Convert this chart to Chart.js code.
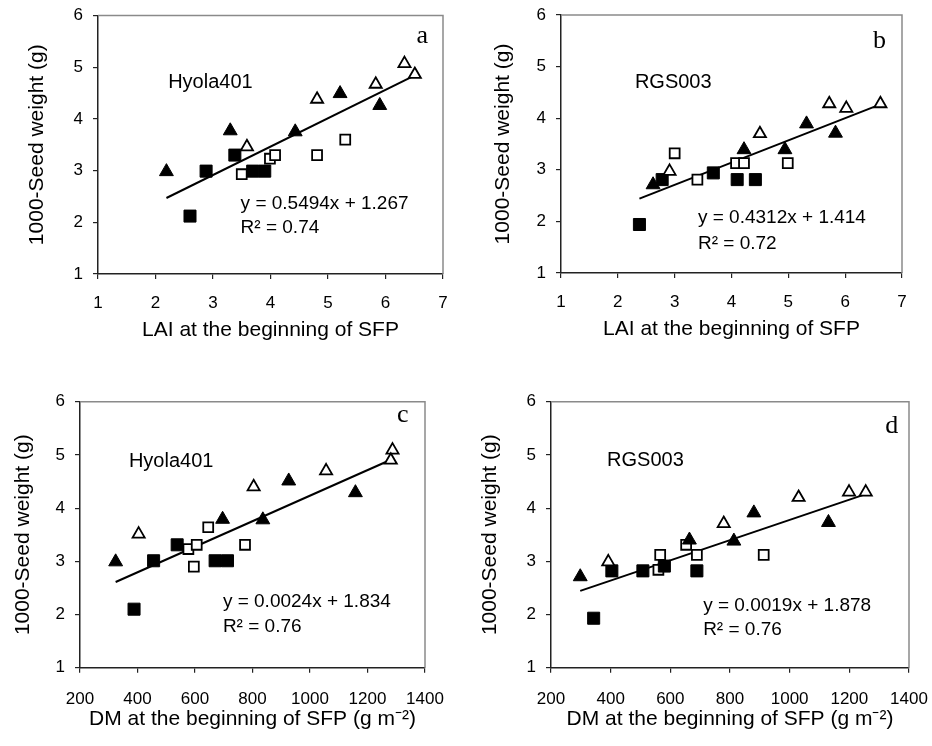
<!DOCTYPE html>
<html>
<head>
<meta charset="utf-8">
<script src="https://cdn.jsdelivr.net/npm/chart.js@4.4.1/dist/chart.umd.min.js"></script>
<style>
  html, body { margin: 0; padding: 0; background: #fff; }
  #wrap { position: relative; width: 932px; height: 746px; }
  .panel { position: absolute; width: 466px; height: 373px; }
  canvas { display: block; }
</style>
</head>
<body>
<div id="wrap">
  <div class="panel" style="left:0;top:0"><canvas id="chartA" width="466" height="373"></canvas></div>
  <div class="panel" style="left:466px;top:0"><canvas id="chartB" width="466" height="373"></canvas></div>
  <div class="panel" style="left:0;top:373px"><canvas id="chartC" width="466" height="373"></canvas></div>
  <div class="panel" style="left:466px;top:373px"><canvas id="chartD" width="466" height="373"></canvas></div>
</div>
<script>
'use strict';

// Panel a: LAI vs seed weight, Hyola401  ([x, y] pairs)
const aSolidTri = [[2.19, 2.98], [3.30, 3.77], [4.43, 3.75], [5.21, 4.49], [5.90, 4.26]];
const aOpenTri  = [[3.59, 3.46], [4.81, 4.38], [5.83, 4.67], [6.33, 5.07], [6.51, 4.86]];
const aSolidSq  = [[2.60, 2.12], [2.88, 2.99], [3.38, 3.30], [3.69, 2.99], [3.90, 2.99]];
const aOpenSq   = [[3.50, 2.93], [3.99, 3.23], [4.08, 3.30], [4.81, 3.30], [5.30, 3.60]];

// Panel b: LAI vs seed weight, RGS003
const bSolidTri = [[2.62, 2.71], [4.22, 3.39], [4.94, 3.39], [5.32, 3.89], [5.83, 3.71]];
const bOpenTri  = [[2.91, 2.97], [4.50, 3.70], [5.72, 4.28], [6.02, 4.19], [6.62, 4.28]];
const bSolidSq  = [[2.38, 1.94], [2.78, 2.81], [3.68, 2.94], [4.10, 2.81], [4.42, 2.81]];
const bOpenSq   = [[3.00, 3.32], [3.40, 2.81], [4.08, 3.13], [4.22, 3.13], [4.99, 3.13]];

// Panel c: DM vs seed weight, Hyola401
const cSolidTri = [[324, 2.99], [696, 3.79], [836, 3.78], [926, 4.51], [1158, 4.29]];
const cOpenTri  = [[404, 3.51], [804, 4.40], [1056, 4.70], [1287, 5.09], [1281, 4.90]];
const cSolidSq  = [[388, 2.10], [456, 3.01], [538, 3.31], [670, 3.01], [713, 3.01]];
const cOpenSq   = [[577, 3.23], [606, 3.31], [596, 2.90], [646, 3.64], [774, 3.31]];

// Panel d: DM vs seed weight, RGS003
const dSolidTri = [[298, 2.71], [664, 3.40], [813, 3.38], [880, 3.91], [1130, 3.73]];
const dOpenTri  = [[392, 2.99], [779, 3.71], [1030, 4.20], [1199, 4.30], [1255, 4.30]];
const dSolidSq  = [[343, 1.93], [404, 2.82], [508, 2.82], [580, 2.91], [689, 2.82]];
const dOpenSq   = [[566, 3.12], [560, 2.84], [653, 3.31], [689, 3.12], [913, 3.12]];

// Regression results printed on each panel
const slopes     = [0.5494, 0.4312, 0.0024, 0.0019];
const intercepts = [1.267, 1.414, 1.834, 1.878];
const r2Values   = [0.74, 0.72, 0.76, 0.76];
const cultivars  = ['Hyola401', 'RGS003', 'Hyola401', 'RGS003'];
const panelTags  = ['a', 'b', 'c', 'd'];

// Axes
const xTitles = ['LAI at the beginning of SFP', 'LAI at the beginning of SFP',
                 'DM at the beginning of SFP (g m\u207B\u00B2)', 'DM at the beginning of SFP (g m\u207B\u00B2)'];
const yTitle = '1000-Seed weight (g)';
const xRanges = [[1, 7, 1], [1, 7, 1], [200, 1400, 200], [200, 1400, 200]];
const yRange = [1, 6, 1];

const SANS = 'Arial, "Liberation Sans", Helvetica, sans-serif';
const SERIF = '"Times New Roman", "Liberation Serif", serif';

// page placement of each plot area: [left, top, right, bottom], plus axis sizes
const layouts = [
    { cx: 0,   cy: 0,   area: [98, 15.5, 443, 274],   yW: 73,   xH: 68.6, xPad: 14 },
    { cx: 466, cy: 0,   area: [561, 15, 902, 273],    yW: 70.6, xH: 68.6, xPad: 14 },
    { cx: 0,   cy: 373, area: [80, 401.7, 425, 667.7], yW: 69.6, xH: 64.6, xPad: 16 },
    { cx: 466, cy: 373, area: [551, 401.7, 909, 667.7], yW: 73.6, xH: 64.6, xPad: 16 }
];
// where the free texts sit, in data units of each panel
const textSpots = [
    { name: [2.22, 4.59], tag: [6.54, 5.47], eq: [3.48, 2.25], r2: [3.48, 1.79] },
    { name: [2.30, 4.59], tag: [6.49, 5.36], eq: [3.41, 1.97], r2: [3.41, 1.47] },
    { name: [370, 4.78],  tag: [1303, 5.61], eq: [697, 2.15],  r2: [697, 1.68] },
    { name: [388, 4.80],  tag: [1320, 5.42], eq: [710, 2.07],  r2: [710, 1.62] }
];

const frameBox = {
    id: 'frameBox',
    beforeDatasetsDraw(chart) {
        const { ctx, chartArea: a } = chart;
        ctx.save();
        ctx.strokeStyle = '#8a8a8a';
        ctx.lineWidth = 1.5;
        ctx.beginPath();
        ctx.moveTo(a.left, a.top);
        ctx.lineTo(a.right, a.top);
        ctx.lineTo(a.right, a.bottom);
        ctx.stroke();
        ctx.restore();
    }
};

const panelTexts = {
    id: 'panelTexts',
    afterDatasetsDraw(chart, args, opts) {
        const { ctx, scales } = chart;
        ctx.save();
        ctx.fillStyle = '#000';
        ctx.textAlign = 'left';
        ctx.textBaseline = 'alphabetic';
        (opts.items || []).forEach(it => {
            ctx.font = it.font;
            ctx.fillText(it.text, scales.x.getPixelForValue(it.at[0]), scales.y.getPixelForValue(it.at[1]));
        });
        ctx.restore();
    }
};

function toPoints(pairs) {
    return pairs.map(p => ({ x: p[0], y: p[1] }));
}

function markerSet(label, pairs, style, filled, radius) {
    return {
        label: label,
        data: toPoints(pairs),
        pointStyle: style,
        pointRadius: radius,
        pointHoverRadius: radius,
        backgroundColor: filled ? '#000' : '#fff',
        borderColor: '#000',
        pointBorderWidth: filled ? 1 : 1.8,
        showLine: false
    };
}

function makePanel(canvasId, i, groups) {
    const lay = layouts[i];
    const [aL, aT, aR, aB] = lay.area;
    const allX = [].concat(...groups.map(g => g.map(p => p[0])));
    const x0 = Math.min(...allX);
    const x1 = Math.max(...allX);
    const trend = [x0, x1].map(x => ({ x: x, y: slopes[i] * x + intercepts[i] }));
    const spots = textSpots[i];

    const ctx = document.getElementById(canvasId).getContext('2d');
    return new Chart(ctx, {
        type: 'scatter',
        data: {
            datasets: [
                markerSet('Solid triangle', groups[0], 'triangle', true, 8),
                markerSet('Open triangle', groups[1], 'triangle', false, 7),
                markerSet('Solid square', groups[2], 'rect', true, 8.5),
                markerSet('Open square', groups[3], 'rect', false, 7),
                {
                    label: 'Trend',
                    data: trend,
                    showLine: true,
                    borderColor: '#000',
                    borderWidth: 2,
                    pointRadius: 0,
                    fill: false
                }
            ]
        },
        options: {
            responsive: false,
            animation: false,
            devicePixelRatio: 1,
            layout: {
                padding: {
                    left: aL - lay.cx - lay.yW,
                    top: aT - lay.cy,
                    right: lay.cx + 466 - aR,
                    bottom: lay.cy + 373 - aB - lay.xH
                }
            },
            plugins: {
                legend: { display: false },
                tooltip: { enabled: false },
                panelTexts: {
                    items: [
                        { text: cultivars[i], at: spots.name, font: '20px ' + SANS },
                        { text: panelTags[i], at: spots.tag, font: '26px ' + SERIF },
                        { text: 'y = ' + slopes[i] + 'x + ' + intercepts[i], at: spots.eq, font: '19px ' + SANS },
                        { text: 'R\u00B2 = ' + r2Values[i], at: spots.r2, font: '19px ' + SANS }
                    ]
                }
            },
            scales: {
                x: {
                    type: 'linear',
                    min: xRanges[i][0],
                    max: xRanges[i][1],
                    ticks: {
                        stepSize: xRanges[i][2],
                        color: '#000',
                        font: { size: 17, family: SANS },
                        padding: lay.xPad,
                        maxRotation: 0,
                        autoSkip: false,
                        callback: v => String(v)
                    },
                    grid: { drawOnChartArea: false, drawTicks: true, tickLength: 5, color: '#222', lineWidth: 1.2 },
                    border: { display: true, color: '#222', width: 1.5 },
                    title: { display: true, text: xTitles[i], color: '#000', font: { size: 21, family: SANS }, padding: 0 },
                    afterFit(scale) {
                        scale.height = lay.xH;
                        scale.paddingLeft = 0;
                        scale.paddingRight = 0;
                    }
                },
                y: {
                    type: 'linear',
                    min: yRange[0],
                    max: yRange[1],
                    ticks: {
                        stepSize: yRange[2],
                        color: '#000',
                        font: { size: 17, family: SANS },
                        padding: 10
                    },
                    grid: { drawOnChartArea: false, drawTicks: true, tickLength: 5, color: '#222', lineWidth: 1.2 },
                    border: { display: true, color: '#222', width: 1.5 },
                    title: { display: true, text: yTitle, color: '#000', font: { size: 21, family: SANS }, padding: 0 },
                    afterFit(scale) {
                        scale.width = lay.yW;
                        scale.paddingTop = 0;
                        scale.paddingBottom = 0;
                    }
                }
            }
        },
        plugins: [frameBox, panelTexts]
    });
}

makePanel('chartA', 0, [aSolidTri, aOpenTri, aSolidSq, aOpenSq]);
makePanel('chartB', 1, [bSolidTri, bOpenTri, bSolidSq, bOpenSq]);
makePanel('chartC', 2, [cSolidTri, cOpenTri, cSolidSq, cOpenSq]);
makePanel('chartD', 3, [dSolidTri, dOpenTri, dSolidSq, dOpenSq]);
</script>
</body>
</html>
